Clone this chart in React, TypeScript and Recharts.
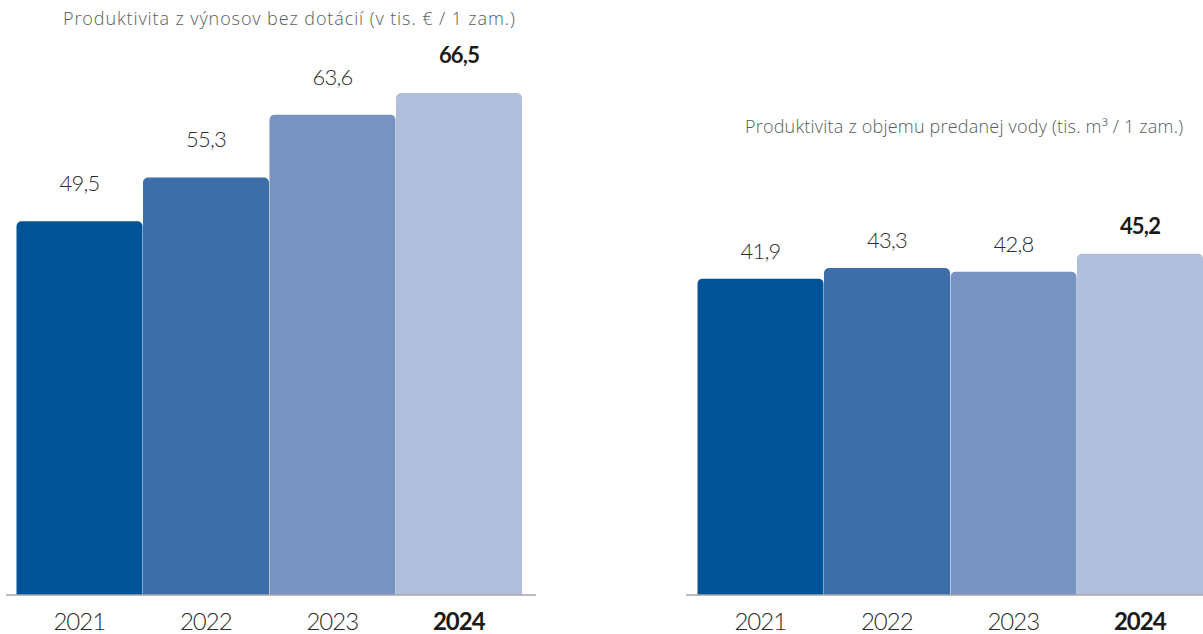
import { BarChart, Bar, XAxis, YAxis, Cell, LabelList } from "recharts";

const years = ["2021", "2022", "2023", "2024"];
const revenueValues = [49.5, 55.3, 63.6, 66.5];
const waterValues = [41.9, 43.3, 42.8, 45.2];
const barColors = ["#005396", "#3d6ea9", "#7893c1", "#b1bfdc"];

const revenueTitle = "Produktivita z výnosov bez dotácií (v tis. € / 1 zam.)";
const waterTitle = "Produktivita z objemu predanej vody (tis. m³ / 1 zam.)";

const FONT = "Lato, 'Open Sans', sans-serif";
const TITLE_FONT = "'Open Sans', Lato, sans-serif";
const LAST = years.length - 1;

const fmt = (v: number) => v.toFixed(1).replace(".", ",");

function YearTick(props: any) {
  const { x, y, payload, index } = props;
  const bold = index === LAST;
  return (
    <text
      x={x}
      y={y + 35}
      textAnchor="middle"
      fontFamily={FONT}
      fontSize={24}
      fontWeight={bold ? 700 : 300}
      letterSpacing={-1}
      fill={bold ? "#1a1a1a" : "#2b2b2b"}
    >
      {payload.value}
    </text>
  );
}

function makeLabel(gap: number) {
  return (props: any) => {
    const { x, y, width, value, index } = props;
    const bold = index === LAST;
    return (
      <text
        x={x + width / 2}
        y={y - gap}
        textAnchor="middle"
        fontFamily={FONT}
        fontSize={22}
        fontWeight={bold ? 700 : 300}
        letterSpacing={-0.8}
        fill={bold ? "#1a1a1a" : "#2b2b2b"}
      >
        {fmt(value)}
      </text>
    );
  };
}

function Panel({
  values,
  width,
  margin,
  padding,
  gap,
}: {
  values: number[];
  width: number;
  margin: { left: number; right: number };
  padding: { left: number; right: number };
  gap: number;
}) {
  const data = years.map((year, i) => ({ year, value: values[i] }));
  return (
    <BarChart
      width={width}
      height={634}
      data={data}
      margin={{ top: 66.5, bottom: 0, left: margin.left, right: margin.right }}
      barCategoryGap={0.5}
    >
      <XAxis
        dataKey="year"
        height={39}
        padding={padding}
        tickLine={false}
        tickSize={0}
        tickMargin={0}
        axisLine={{ stroke: "#a6a6a6", strokeWidth: 1.5 }}
        tick={<YearTick />}
        interval={0}
      />
      <YAxis hide domain={[0, 70]} />
      <Bar dataKey="value" radius={[5, 5, 0, 0]} isAnimationActive={false}>
        {data.map((_, i) => (
          <Cell key={i} fill={barColors[i]} />
        ))}
        <LabelList dataKey="value" content={makeLabel(gap)} />
      </Bar>
    </BarChart>
  );
}

export default function App() {
  const titleStyle: React.CSSProperties = {
    position: "absolute",
    fontFamily: TITLE_FONT,
    fontWeight: 300,
    fontSize: 18,
    color: "#555d63",
    whiteSpace: "nowrap",
  };
  return (
    <div style={{ position: "absolute", left: 0, top: 0, width: 1203, height: 634, background: "#fff" }}>
      <div style={{ ...titleStyle, left: 63, top: 6, letterSpacing: 0.9 }}>{revenueTitle}</div>
      <div style={{ ...titleStyle, left: 745, top: 114, letterSpacing: 0.2 }}>{waterTitle}</div>
      <div style={{ position: "absolute", left: 0, top: 0 }}>
        <Panel
          values={revenueValues}
          width={540}
          margin={{ left: 6, right: 4 }}
          padding={{ left: 10, right: 14 }}
          gap={30}
        />
      </div>
      <div style={{ position: "absolute", left: 680, top: 0 }}>
        <Panel
          values={waterValues}
          width={523}
          margin={{ left: 6, right: 0 }}
          padding={{ left: 11, right: 0 }}
          gap={20}
        />
      </div>
    </div>
  );
}
